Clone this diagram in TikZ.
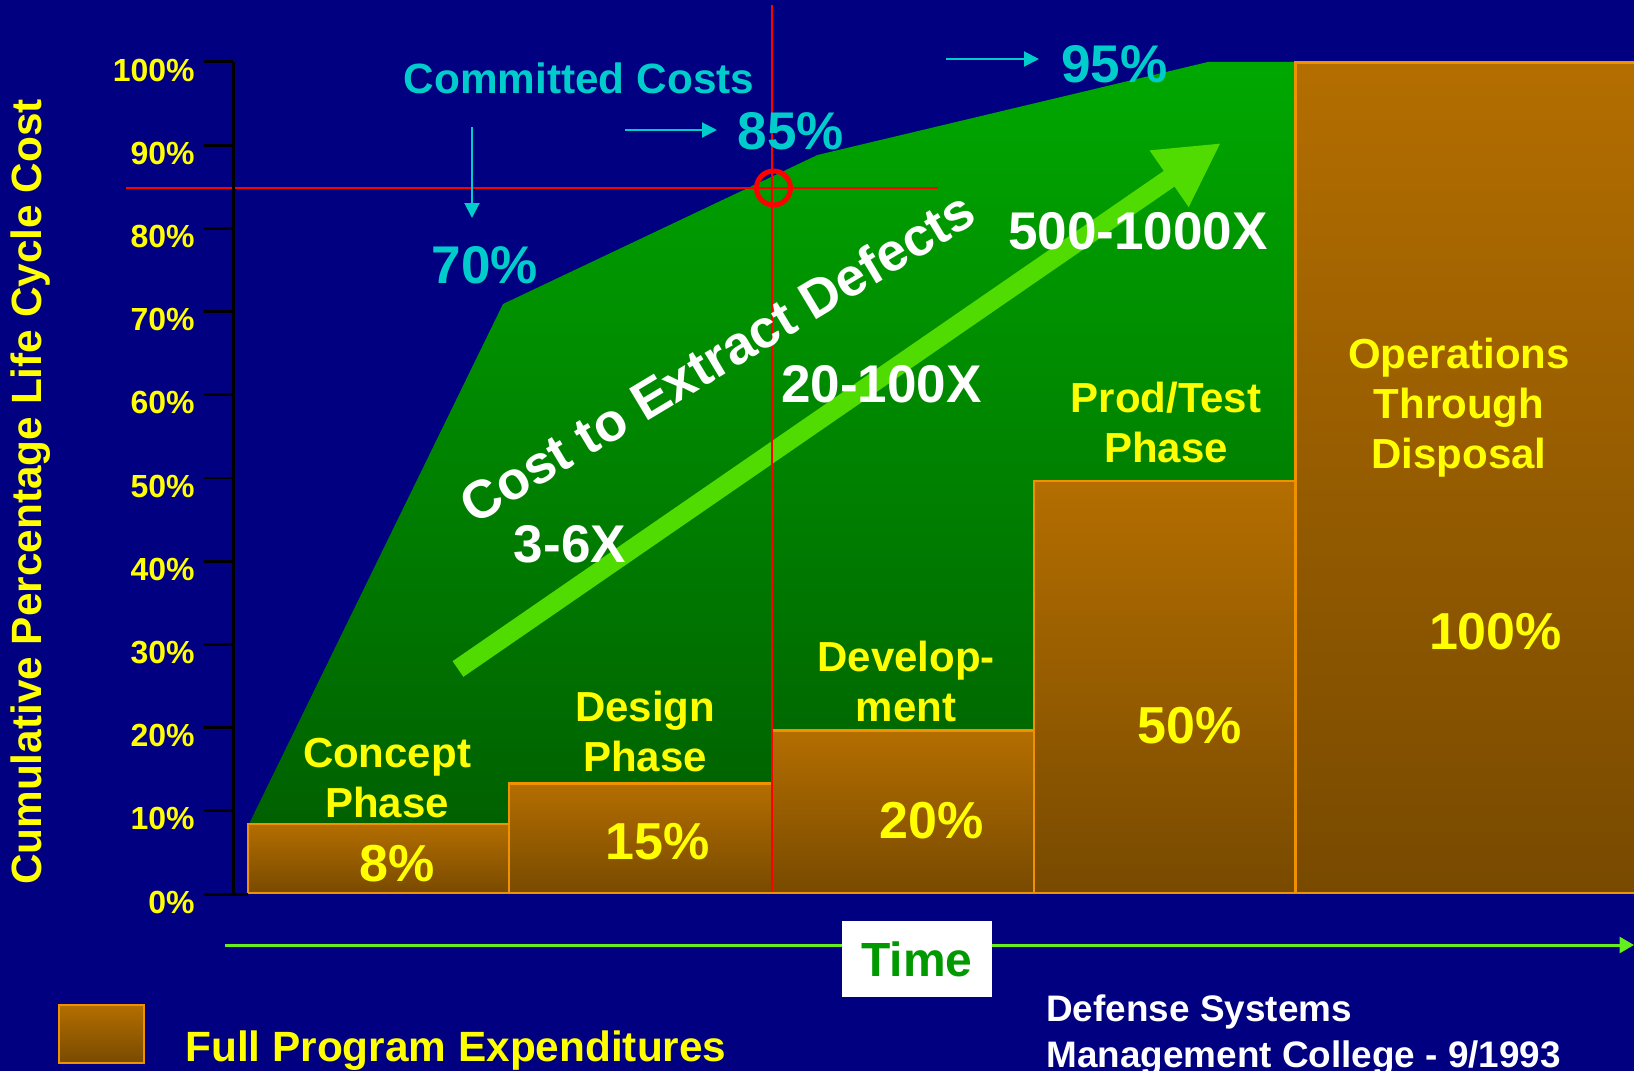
\documentclass[tikz,border=0pt]{standalone}
\usepackage{fontspec}
\setmainfont{Liberation Sans}
\usetikzlibrary{arrows.meta}

\definecolor{navybg}{RGB}{0,0,128}
\definecolor{grntop}{RGB}{0,168,0}
\definecolor{grnbot}{RGB}{0,90,0}
\definecolor{brntop}{RGB}{180,110,0}
\definecolor{brnbot}{RGB}{120,74,0}
\definecolor{brnedge}{RGB}{240,145,0}
\definecolor{ylw}{RGB}{255,255,0}
\definecolor{cyn}{RGB}{0,204,204}
\definecolor{lgrn}{RGB}{80,220,0}
\definecolor{timegrn}{RGB}{0,153,0}
\definecolor{axisgrn}{RGB}{100,240,30}

\tikzset{
  ticklbl/.style={text=ylw, anchor=east, inner sep=0pt, font=\bfseries\fontsize{18.2}{20}\selectfont},
  ylbl/.style={text=ylw, font=\bfseries\fontsize{24.1}{28}\selectfont},
  phaselbl/.style={text=ylw, anchor=north, align=center, inner sep=0pt, font=\bfseries\fontsize{23.9}{28.5}\selectfont},
  bignum/.style={text=ylw, font=\bfseries\fontsize{29.6}{32}\selectfont},
  multlbl/.style={text=white, font=\bfseries\fontsize{30.2}{32}\selectfont},
  cyanlbl/.style={text=cyn, font=\bfseries\fontsize{30.2}{32}\selectfont},
  cyansmall/.style={text=cyn, font=\bfseries\fontsize{24.1}{28}\selectfont},
  costlbl/.style={text=white, font=\bfseries\fontsize{30.5}{32}\selectfont},
  cyanarr/.style={draw=cyn, line width=0.04cm, -{Triangle[length=0.3cm,width=0.3cm]}},
  redline/.style={draw=red, line width=0.04cm},
  costbox/.style={top color=brntop, bottom color=brnbot, draw=brnedge, line width=0.05cm},
}

\begin{document}
\begin{tikzpicture}[x=0.02cm, y=-0.02cm]
      \useasboundingbox (0,0) rectangle (1634,1071);
      \clip (0,0) rectangle (1634,1071);
      \fill[navybg] (0,0) rectangle (1634,1071);
      % Committed costs:
      \shade[top color=grntop, bottom color=grnbot] (249,824) -- (503,304) -- (817.5,155) -- (1208,62) -- (1296,62) -- (1296,893) -- (249,893) -- cycle;
      \coordinate (arrtail) at (458,669);
      \coordinate (arrtip) at (1221,143);
      \draw[lgrn, line width=0.38cm, -{Triangle[length=1.26cm,width=1.28cm]}] (arrtail) -- (arrtip);
      % Expenditure boxes:
      \foreach \xa/\xb/\yt in {248/509/824, 509/772/783.5, 772/1034/730.5, 1034/1295.5/481, 1295.5/1660/62.4}
        \shadedraw[costbox] (\xa,\yt) rectangle (\xb,893);
      % Red cross-hair:
      \coordinate (redtop) at (772,5);
      \coordinate (redbot) at (772,892);
      \coordinate (redleft) at (126,188);
      \coordinate (redright) at (938,188);
      \draw[redline] (redtop) -- (redbot);
      \draw[redline] (redleft) -- (redright);
      \node[draw=red, circle, line width=0.1cm, minimum size=0.68cm, inner sep=0pt] (hit85) at (773.5,188) {};
      % Axes:
      \draw[line width=0.06cm] (233,62) -- (233,894);
      \foreach \p in {0,10,...,100} {
        \draw[line width=0.06cm] (204,{894-8.32*\p}) -- (233,{894-8.32*\p});
        \node[ticklbl] (tick\p) at (195,{902-8.32*\p}) {\p\%};
      }
      \draw[line width=0.06cm] (233,894) -- (248,894);
      \node[ylbl, rotate=90] (ylabel) at (31,492) {Cumulative Percentage Life Cycle Cost};
      % Committed cost labels:
      \node[cyansmall] (committed) at (579,78) {Committed Costs};
      \node[cyanlbl] (c70) at (485,265) {70\%};
      \node[cyanlbl] (c85) at (791,131) {85\%};
      \node[cyanlbl] (c95) at (1114.5,64) {95\%};
      \coordinate (a70top) at (472,127);
      \coordinate (a70bot) at (472,218);
      \coordinate (a85start) at (625,130);
      \coordinate (a85end) at (717,130);
      \coordinate (a95start) at (946,59);
      \coordinate (a95end) at (1039,59);
      \draw[cyanarr] (a70top) -- (a70bot);
      \draw[cyanarr] (a85start) -- (a85end);
      \draw[cyanarr] (a95start) -- (a95end);
      % Defect costs:
      \node[costlbl, rotate=31] (extract) at (717,357) {Cost to Extract Defects};
      \node[multlbl] (m36) at (570,544) {3-6X};
      \node[multlbl] (m20) at (881.5,384) {20-100X};
      \node[multlbl] (m500) at (1138,231) {500-1000X};
      % Phases:
      \node[phaselbl] (concept) at (387,738) {Concept\\Phase};
      \node[phaselbl] (design) at (645,690.5) {Design\\Phase};
      \node[phaselbl] (devel) at (906,641) {Develop-\\ment};
      \node[phaselbl] (prodtest) at (1166,382) {Prod/Test\\Phase};
      \node[phaselbl] (ops) at (1459,338) {Operations\\Through\\Disposal};
      \node[bignum] (pc8) at (397,864) {8\%};
      \node[bignum] (pc15) at (658,842) {15\%};
      \node[bignum] (pc20) at (931.5,821) {20\%};
      \node[bignum] (pc50) at (1189.5,725.5) {50\%};
      \node[bignum] (pc100) at (1495.5,632) {100\%};
      % Time axis:
      \coordinate (tstart) at (225,945);
      \coordinate (tend) at (1634,945);
      \draw[axisgrn, line width=0.06cm, -{Triangle[length=0.29cm,width=0.32cm]}] (tstart) -- (tend);
      \node[fill=white, minimum width=3cm, minimum height=1.53cm, inner sep=0pt, text=timegrn, font=\bfseries\fontsize{27.3}{30}\selectfont] (time) at (917,959) {Time};
      % Legend:
      \shadedraw[costbox] (59,1005) rectangle (144,1063);
      \node[anchor=base west, inner sep=0pt, text=ylw, font=\bfseries\fontsize{24.1}{28}\selectfont] (legend) at (185,1061.5) {Full Program Expenditures};
      \node[anchor=north west, inner sep=0pt, align=left, text=white, font=\bfseries\fontsize{21}{26.2}\selectfont] (dsmc) at (1046,994.5) {Defense Systems\\Management College - 9/1993};
\end{tikzpicture}
\end{document}
